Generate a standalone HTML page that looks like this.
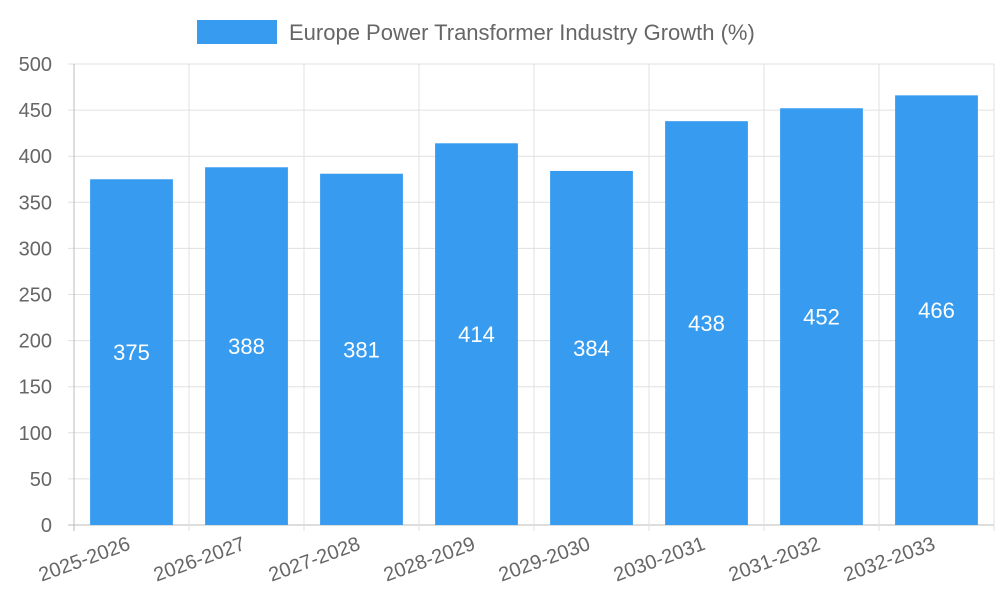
<!DOCTYPE html>
<html><head><meta charset="utf-8"><style>
html,body{margin:0;padding:0;background:#fff;}
svg text{font-family:"Liberation Sans",sans-serif;}
</style></head><body>
<svg id="chart" width="1000" height="600" xmlns="http://www.w3.org/2000/svg">
<g>
<rect x="197" y="20" width="80" height="24" fill="#379cf0"/>
<text x="289" y="40" font-size="22" fill="#666">Europe Power Transformer Industry Growth (%)</text>
</g>
<g id="grid"></g><g id="bars"></g><g id="labels"></g>
</svg>
<script>
const categories=["2025-2026","2026-2027","2027-2028","2028-2029","2029-2030","2030-2031","2031-2032","2032-2033"];
const values=[375,388,381,414,384,438,452,466];
const yTicks=[0,50,100,150,200,250,300,350,400,450,500];
const L=74,R=994,T=64,B=525,yMax=500;
const bw=(R-L)/categories.length;
function y(v){return B-(v/yMax)*(B-T);}
function x(i){return L+i*bw;}
const NS="http://www.w3.org/2000/svg";
function mk(t,a,p){const e=document.createElementNS(NS,t);for(const k in a)e.setAttribute(k,a[k]);p.appendChild(e);return e;}
const g=document.getElementById('grid'),bg=document.getElementById('bars'),lg=document.getElementById('labels');
yTicks.forEach(v=>{
 const l=mk('line',{x1:L-6,x2:R,y1:y(v),y2:y(v),stroke:v===0?'#bbb':'#e0e0e0','stroke-width':1},g);
 
 
 const t=mk('text',{x:L-22,y:y(v)+7,'font-size':20,fill:'#666','text-anchor':'end'},g);
 t.textContent=v;
 
 
});
for(let i=0;i<=categories.length;i++){
 const l=mk('line',{x1:x(i),x2:x(i),y1:T,y2:B+6,stroke:i===0?'#bbb':'#e0e0e0','stroke-width':1},g);
 
 
}
categories.forEach((c,i)=>{
 const cx=x(i)+bw/2,w=bw*0.72,v=values[i];
 const r=mk('rect',{x:cx-w/2,y:y(v),width:w,height:B-y(v),fill:'#379cf0'},bg);
 
 
 const t=mk('text',{x:cx,y:(y(v)+B)/2+8,'font-size':22,fill:'#fff','text-anchor':'middle'},lg);
 t.textContent=v;
 
 
 const xl=mk('text',{x:cx,y:B+24,'font-size':20,fill:'#666','text-anchor':'end',transform:`rotate(-20 ${cx} ${B+24})`},lg);
 xl.textContent=c;
 
 
});
</script>
</body></html>
